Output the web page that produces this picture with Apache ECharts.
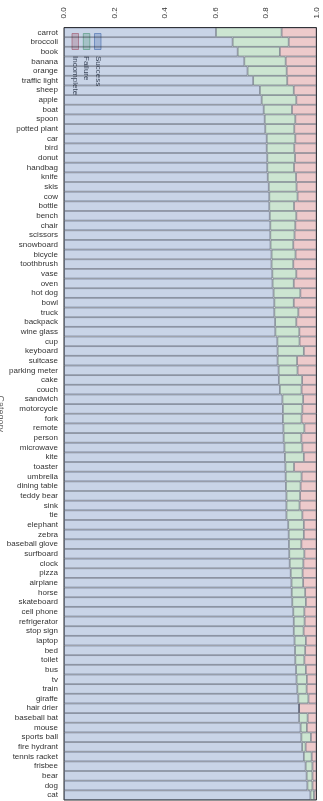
<!DOCTYPE html>
<html>
<head>
<meta charset="utf-8">
<script src="https://cdn.jsdelivr.net/npm/echarts@6/dist/echarts.min.js"></script>
<style>
html,body{margin:0;padding:0;background:#fff;}
#main{width:323px;height:801px;}
</style>
</head>
<body>
<div id="main"></div>
<script>
// categories, top to bottom
var categories = ['carrot','broccoli','book','banana','orange','traffic light','sheep','apple','boat','spoon','potted plant','car',
  'bird','donut','handbag','knife','skis','cow','bottle','bench','chair','scissors','snowboard','bicycle',
  'toothbrush','vase','oven','hot dog','bowl','truck','backpack','wine glass','cup','keyboard','suitcase','parking meter',
  'cake','couch','sandwich','motorcycle','fork','remote','person','microwave','kite','toaster','umbrella','dining table',
  'teddy bear','sink','tie','elephant','zebra','baseball glove','surfboard','clock','pizza','airplane','horse','skateboard',
  'cell phone','refrigerator','stop sign','laptop','bed','toilet','bus','tv','train','giraffe','hair drier',
  'baseball bat','mouse','sports ball','fire hydrant','tennis racket','frisbee','bear','dog','cat'];

// share of successes
var success = [0.602,0.668,0.688,0.714,0.727,0.749,0.776,0.783,0.791,0.795,0.797,0.803,
  0.803,0.805,0.805,0.807,0.811,0.813,0.813,0.815,0.817,0.817,0.818,0.822,
  0.822,0.825,0.826,0.830,0.833,0.833,0.836,0.837,0.845,0.846,0.846,0.850,
  0.851,0.855,0.865,0.867,0.867,0.869,0.870,0.873,0.875,0.877,0.878,0.879,
  0.881,0.881,0.881,0.888,0.890,0.891,0.892,0.894,0.898,0.901,0.902,0.904,
  0.908,0.910,0.910,0.913,0.915,0.916,0.919,0.921,0.924,0.928,0.931,
  0.931,0.937,0.940,0.943,0.950,0.957,0.961,0.964,0.976];

// share of failures
var failure = [0.260,0.222,0.167,0.164,0.155,0.135,0.134,0.137,0.112,0.121,0.115,0.113,
  0.109,0.110,0.106,0.112,0.110,0.112,0.098,0.105,0.099,0.096,0.090,0.095,
  0.086,0.095,0.084,0.106,0.077,0.095,0.084,0.095,0.088,0.104,0.077,0.075,
  0.092,0.086,0.082,0.077,0.074,0.083,0.070,0.071,0.075,0.034,0.063,0.058,
  0.054,0.052,0.063,0.062,0.060,0.049,0.060,0.054,0.047,0.046,0.053,0.054,
  0.044,0.043,0.039,0.045,0.040,0.036,0.039,0.041,0.037,0.040,0.000,
  0.034,0.025,0.038,0.014,0.031,0.027,0.023,0.020,0.014];

// share of incomplete runs
var incomplete = [0.138,0.110,0.145,0.122,0.118,0.116,0.090,0.080,0.097,0.084,0.088,0.084,
  0.088,0.085,0.089,0.081,0.079,0.075,0.089,0.080,0.084,0.087,0.092,0.083,
  0.092,0.080,0.090,0.064,0.090,0.072,0.080,0.068,0.067,0.050,0.077,0.075,
  0.057,0.059,0.053,0.056,0.059,0.048,0.060,0.056,0.050,0.089,0.059,0.063,
  0.065,0.067,0.056,0.050,0.050,0.060,0.048,0.052,0.055,0.053,0.045,0.042,
  0.048,0.047,0.051,0.042,0.045,0.048,0.042,0.038,0.039,0.032,0.069,
  0.035,0.038,0.022,0.043,0.019,0.016,0.016,0.016,0.010];

var xTicks = [0, 0.2, 0.4, 0.6, 0.8, 1.0];

var myChart = echarts.init(document.getElementById('main'));

var edge = 'rgba(45,55,75,0.55)';
function bar(name, data, fill) {
  return {
    name: name,
    type: 'bar',
    stack: 'share',
    barWidth: '100%',
    data: data,
    silent: true,
    itemStyle: { color: fill, borderColor: edge, borderWidth: 0.8 }
  };
}

var option = {
  animation: false,
  backgroundColor: '#fff',
  textStyle: { fontFamily: 'Liberation Sans, Arial, sans-serif' },
  grid: {
    left: 64, right: 6.5, top: 27.5, bottom: 1,
    containLabel: false,
    outerBoundsMode: 'none',
    show: true, borderColor: '#333', borderWidth: 1
  },
  xAxis: {
    type: 'value',
    position: 'top',
    min: xTicks[0], max: xTicks[xTicks.length - 1], interval: 0.2,
    axisLine: { show: false },
    axisTick: { show: false },
    splitLine: { show: false },
    axisLabel: {
      rotate: -90,
      fontSize: 8,
      color: '#333',
      margin: 9,
      formatter: function (v) { return v.toFixed(1); }
    }
  },
  yAxis: {
    type: 'category',
    inverse: true,
    data: categories,
    name: 'Category',
    nameLocation: 'middle',
    nameGap: 59,
    nameRotate: -90,
    nameMoveOverlap: false,
    nameTextStyle: { fontSize: 9, color: '#666' },
    axisLine: { show: false },
    axisTick: { show: false },
    axisLabel: { fontSize: 8, color: '#333', margin: 6, interval: 0 }
  },
  series: [
    bar('Success', success, 'rgba(76,114,176,0.3)'),
    bar('Failure', failure, 'rgba(85,168,104,0.3)'),
    bar('Incomplete', incomplete, 'rgba(196,78,82,0.3)')
  ],
  // legend drawn rotated, like the figure
  graphic: [
    { type: 'rect', shape: { x: 72, y: 33.5, width: 6.5, height: 16 }, style: { fill: 'rgba(196,78,82,0.3)', stroke: 'rgba(196,78,82,0.8)', lineWidth: 0.8 } },
    { type: 'rect', shape: { x: 83.3, y: 33.5, width: 6.5, height: 16 }, style: { fill: 'rgba(85,168,104,0.3)', stroke: 'rgba(85,168,104,0.8)', lineWidth: 0.8 } },
    { type: 'rect', shape: { x: 94.5, y: 33.5, width: 6.5, height: 16 }, style: { fill: 'rgba(76,114,176,0.3)', stroke: 'rgba(76,114,176,0.8)', lineWidth: 0.8 } },
    { type: 'text', x: 75.3, y: 56, rotation: -Math.PI / 2, style: { text: 'Incomplete', fontSize: 8, fill: '#333', align: 'left', verticalAlign: 'middle' } },
    { type: 'text', x: 86.6, y: 56, rotation: -Math.PI / 2, style: { text: 'Failure', fontSize: 8, fill: '#333', align: 'left', verticalAlign: 'middle' } },
    { type: 'text', x: 97.8, y: 56, rotation: -Math.PI / 2, style: { text: 'Success', fontSize: 8, fill: '#333', align: 'left', verticalAlign: 'middle' } }
  ]
};

myChart.setOption(option);
</script>
</body>
</html>
